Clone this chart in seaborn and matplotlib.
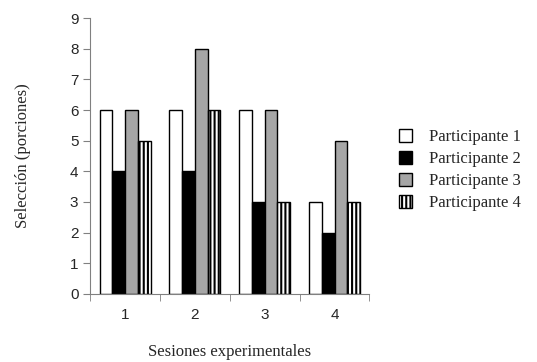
import seaborn as sns
import matplotlib.pyplot as plt
import pandas as pd
from matplotlib.patches import Patch

sesiones = ["1", "2", "3", "4"]
participantes = ["Participante 1", "Participante 2", "Participante 3", "Participante 4"]
p1 = [6, 6, 6, 3]
p2 = [4, 4, 3, 2]
p3 = [6, 8, 6, 5]
p4 = [5, 6, 3, 3]

df = pd.DataFrame({
    "sesion": sesiones * 4,
    "participante": [p for p in participantes for _ in sesiones],
    "valor": p1 + p2 + p3 + p4,
})

sns.set_style("white")
plt.rcParams["hatch.linewidth"] = 1.5

colores = ["white", "black", "#a6a6a6", "white"]
fig = plt.figure(figsize=(5.37, 3.62), dpi=100)
ax = fig.add_axes([0.168, 0.188, 0.52, 0.762])

sns.barplot(data=df, x="sesion", y="valor", hue="participante", palette=colores,
            width=0.73, edgecolor="black", linewidth=1.0, ax=ax, legend=False)

# patrón de rayas verticales para el participante 4
n = len(sesiones)
for i, bar in enumerate(ax.patches[:4 * n]):
    if i // n == 3:
        bar.set_hatch("||||")

ax.set_ylim(0, 9)
ax.set_xlim(-0.5, 3.5)
ax.set_yticks(range(10))
for lab in ax.get_yticklabels() + ax.get_xticklabels():
    lab.set_family("Liberation Sans")
    lab.set_fontsize(11)

ax.set_xticks([-0.5, 0.5, 1.5, 2.5, 3.5], minor=True)
ax.tick_params(axis="x", which="major", length=0, pad=10)
ax.tick_params(axis="x", which="minor", length=5, direction="out", color="#808080", bottom=True)
ax.tick_params(axis="y", length=5, direction="out", color="#808080", left=True)

for s in ["top", "right"]:
    ax.spines[s].set_visible(False)
for s in ["left", "bottom"]:
    ax.spines[s].set_color("#808080")

ax.set_xlabel("Sesiones experimentales", family="Liberation Serif", fontsize=12, labelpad=16)
ax.set_ylabel("Selección (porciones)", family="Liberation Serif", fontsize=12, labelpad=28)

handles = []
for nombre, c in zip(participantes, colores):
    h = Patch(facecolor=c, edgecolor="black", label=nombre,
              hatch="||||" if nombre.endswith("4") else None)
    handles.append(h)
fig.legend(handles=handles, loc="upper left", bbox_to_anchor=(0.715, 0.685), frameon=False,
           prop={"family": "Liberation Serif", "size": 12}, handlelength=0.8, handleheight=0.8,
           handletextpad=1.0, labelspacing=0.35)

fig.savefig("out.png", dpi=100)
